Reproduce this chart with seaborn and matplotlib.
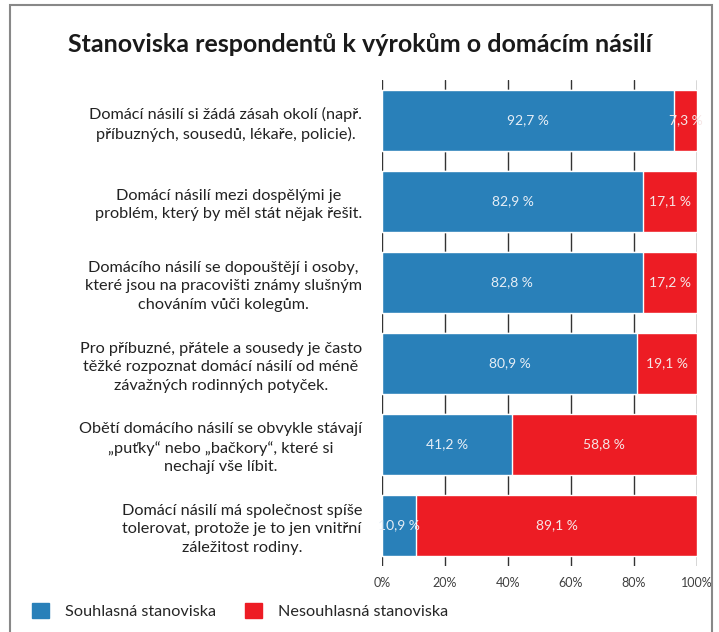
import matplotlib
matplotlib.use("Agg")
import matplotlib.pyplot as plt
import seaborn as sns
import pandas as pd
from matplotlib.patches import Patch, Rectangle

statements = [
    "Domácí násilí si žádá zásah okolí (např.\npříbuzných, sousedů, lékaře, policie).",
    "Domácí násilí mezi dospělými je\nproblém, který by měl stát nějak řešit.",
    "Domácího násilí se dopouštějí i osoby,\nkteré jsou na pracovišti známy slušným\nchováním vůči kolegům.",
    "Pro příbuzné, přátele a sousedy je často\ntěžké rozpoznat domácí násilí od méně\nzávažných rodinných potyček.",
    "Obětí domácího násilí se obvykle stávají\n„puťky“ nebo „bačkory“, které si\nnechají vše líbit.",
    "Domácí násilí má společnost spíše\ntolerovat, protože je to jen vnitřní\nzáležitost rodiny.",
]
agree = [92.7, 82.9, 82.8, 80.9, 41.2, 10.9]
disagree = [7.3, 17.1, 17.2, 19.1, 58.8, 89.1]
series_names = ["Souhlasná stanoviska", "Nesouhlasná stanoviska"]
title = "Stanoviska respondentů k výrokům o domácím násilí"
xticks = [0, 20, 40, 60, 80, 100]

BLUE = "#2980b9"
RED = "#ed1c24"

sns.set_theme(style="white")
plt.rcParams["font.family"] = ["Lato", "DejaVu Sans"]

df = pd.DataFrame({"statement": statements, "agree": agree, "disagree": disagree})
df["total"] = df["agree"] + df["disagree"]

fig = plt.figure(figsize=(7.19, 6.32), dpi=100)
ax = fig.add_axes([382 / 719, 1 - 566 / 632, 315 / 719, 486 / 632])

sns.barplot(data=df, x="total", y="statement", color=RED, width=0.765,
            saturation=1, ax=ax, orient="h", zorder=2)
sns.barplot(data=df, x="agree", y="statement", color=BLUE, width=0.765,
            saturation=1, ax=ax, orient="h", zorder=3)

for i, (a, d) in enumerate(zip(agree, disagree)):
    ax.text(a / 2, i, f"{a:.1f} %".replace(".", ","), ha="center", va="center",
            color="#e6eef6", fontsize=10, zorder=5)
    ax.text(a + d / 2, i, f"{d:.1f} %".replace(".", ","), ha="center", va="center",
            color="#f5e6e6", fontsize=10, zorder=5)

ax.set_xlim(0, 100)
ax.set_ylim(5.5, -0.5)
ax.set_xticks(xticks)
ax.set_xticklabels([f"{t}%" for t in xticks], fontsize=9, color="#404040")
ax.tick_params(axis="x", length=0, pad=8)
ax.set_xlabel("")
ax.set_ylabel("")
ax.set_yticks(range(len(statements)))
ax.set_yticklabels(statements, fontsize=11.7, color="#222222", ha="right",
                   multialignment="center", linespacing=1.4)
ax.tick_params(axis="y", length=0, pad=14.4)
ax.grid(axis="x", color="#333333", linewidth=1, zorder=0)
ax.set_axisbelow(True)
for s in ax.spines.values():
    s.set_visible(False)

fig.text(0.5, 1 - 45 / 632, title, ha="center", va="center",
         fontsize=18, fontweight="bold", color="#1a1a1a")

handles = [Patch(facecolor=BLUE, edgecolor=BLUE), Patch(facecolor=RED, edgecolor=RED)]
fig.legend(handles, series_names, loc="center left",
           bbox_to_anchor=(17 / 719, 1 - 611 / 632), ncol=2, frameon=False,
           fontsize=11.7, handlelength=1.05, handleheight=1.05,
           columnspacing=1.8, handletextpad=1.0)

fig.patches.append(Rectangle((10 / 719, -0.02), 702 / 719, 1 - 5 / 632 + 0.02,
                             transform=fig.transFigure, fill=False,
                             edgecolor="#888888", linewidth=1.5))

fig.savefig("out.png", dpi=100)
